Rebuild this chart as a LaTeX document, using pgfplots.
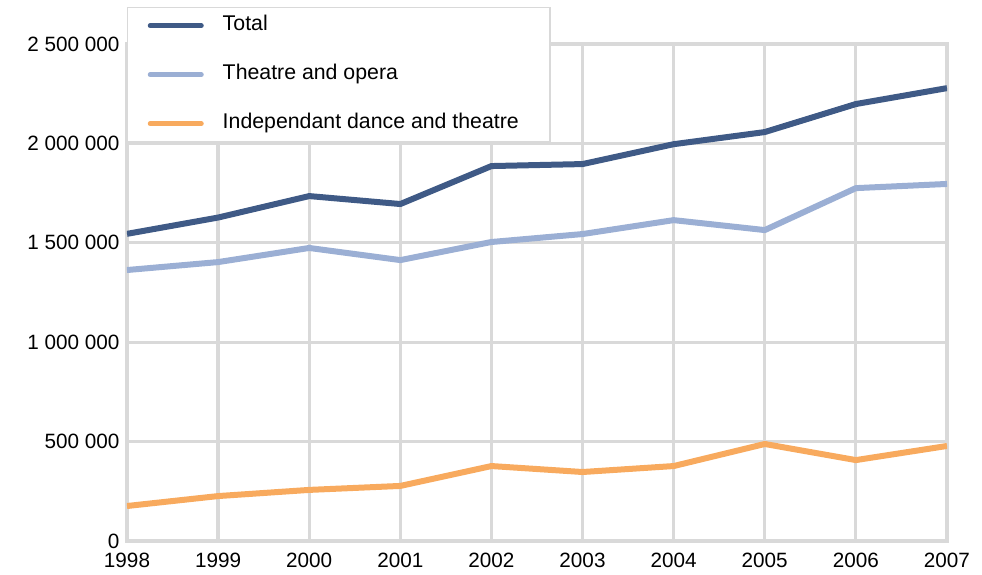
\documentclass[border=0pt]{standalone}
\usepackage{pgfplots}
\pgfplotsset{compat=1.18}
\usepackage{fontspec}
\setmainfont{Liberation Sans}

\definecolor{totalc}{HTML}{3F5A86}
\definecolor{theatrec}{HTML}{9BAFD4}
\definecolor{indepc}{HTML}{F8AA5E}
\definecolor{gridc}{HTML}{D9D9D9}

\newcommand{\legtxt}[1]{\makebox[307pt][l]{#1}}

\begin{document}
\begin{tikzpicture}
\begin{axis}[
  scale only axis,
  width=820pt, height=497pt,
  xmin=1998, xmax=2007,
  ymin=0, ymax=2500000,
  xtick={1998,...,2007},
  ytick={0,500000,1000000,1500000,2000000,2500000},
  yticklabels={0,500 000,1 000 000,1 500 000,2 000 000,2 500 000},
  xticklabel style={/pgf/number format/1000 sep={}},
  /pgf/number format/assume math mode=true,
  tick label style={font=\fontsize{20.7}{24}\selectfont, text=black},
  yticklabel style={xshift=-4pt},
  xticklabel style={yshift=-9pt},
  scaled y ticks=false,
  major tick length=0pt,
  grid=major,
  grid style={gridc, line width=3.2pt},
  axis line style={gridc, line width=3.2pt},
  every axis plot/.append style={line width=6pt, line join=round},
  legend cell align=left,
  legend image code/.code={\draw[#1, line width=5pt, line cap=round] (2.5pt,0pt) -- (53.5pt,0pt);},
  legend style={
    at={(rel axis cs:0,1)}, yshift=37pt, anchor=north west,
    draw=gridc, line width=1.5pt, fill=white,
    font=\fontsize{21.3}{25}\selectfont,
    inner xsep=20pt, inner ysep=9pt,
    row sep=31pt,
    nodes={inner sep=0pt, text height=14pt, text depth=4pt, anchor=west},
    /tikz/every odd column/.append style={column sep=19pt},
  },
]
\addplot[totalc] coordinates {(1998,1545000) (1999,1627000) (2000,1735000) (2001,1695000) (2002,1886000) (2003,1896000) (2004,1996000) (2005,2057000) (2006,2198000) (2007,2278000)};
\addlegendentry{\legtxt{Total}}
\addplot[theatrec] coordinates {(1998,1363000) (1999,1403000) (2000,1474000) (2001,1413000) (2002,1504000) (2003,1544000) (2004,1614000) (2005,1564000) (2006,1775000) (2007,1796000)};
\addlegendentry{\legtxt{Theatre and opera}}
\addplot[indepc] coordinates {(1998,176000) (1999,226000) (2000,257000) (2001,277000) (2002,377000) (2003,347000) (2004,377000) (2005,488000) (2006,407000) (2007,478000)};
\addlegendentry{\legtxt{Independant dance and theatre}}
\end{axis}
\useasboundingbox (-127pt,-34pt) rectangle (855pt,541pt);
\end{tikzpicture}
\end{document}
